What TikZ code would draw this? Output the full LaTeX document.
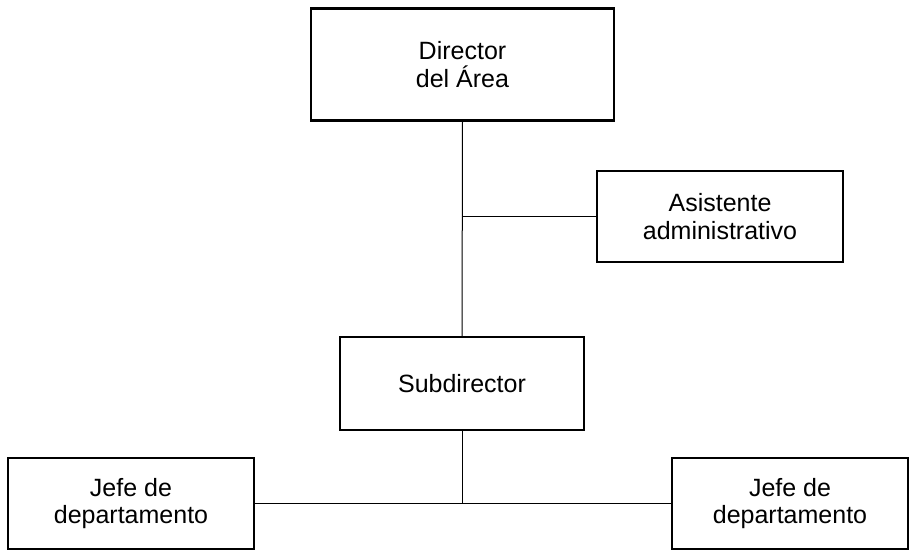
\documentclass[tikz,border=0pt]{standalone}
\usepackage{fontspec}
\setmainfont{Liberation Sans}
\usetikzlibrary{calc,positioning}
\tikzset{
    puesto/.style = {
        draw,
        line width=1.2pt,
        align=center,
        outer sep=0pt,
        inner sep=2pt,
        font=\fontsize{12.5}{13.6}\selectfont,
        },
    enlace/.style = {
        draw,
        line width=0.5pt,
        },
}
\begin{document}
\begin{tikzpicture}[x=0.5pt, y=-0.5pt]
            \useasboundingbox (0,0) rectangle (911,551);

            \node[puesto, minimum width=151.5pt, minimum height=56pt] (dir) at (462.5,64.5) {Director\\del Área};
            \node[puesto, minimum width=123pt, minimum height=45.5pt] (asis) at (720,216.5) {Asistente\\administrativo};
            \node[puesto, minimum width=122pt, minimum height=46.5pt] (sub) at (462,383.5) {Subdirector};
            \node[puesto, minimum width=123pt, minimum height=45.5pt] (jefe1) at (131,503.5) {Jefe de\\departamento};
            \node[puesto, minimum width=118pt, minimum height=45.5pt] (jefe2) at (790,503.5) {Jefe de\\departamento};

            %\draw (dir) -- (sub);
            \coordinate (rama) at (dir.south |- asis.west);
            \coordinate (bus) at (sub.south |- jefe1.east);

            \path[enlace] (dir.south) -- (sub.north);
            \path[enlace] (rama) -- (asis.west);
            \path[enlace] (sub.south) -- (bus);
            \path[enlace] (jefe1.east) -- (jefe2.west);
        \end{tikzpicture}
\end{document}
